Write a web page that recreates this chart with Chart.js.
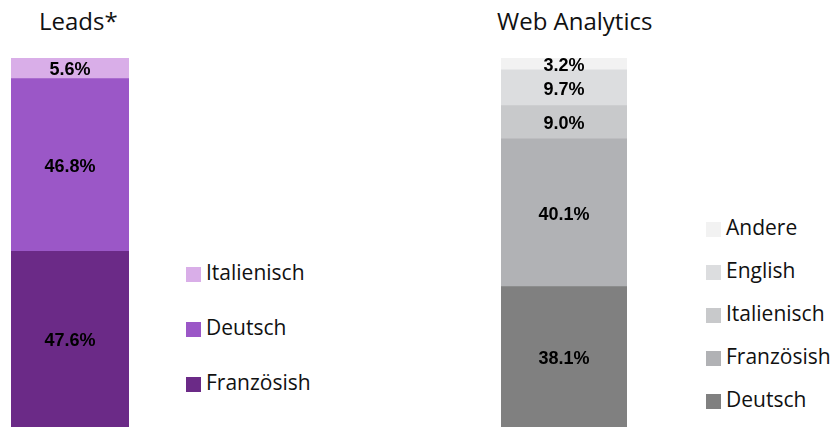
<!DOCTYPE html>
<html>
<head>
<meta charset="utf-8">
<script src="https://cdn.jsdelivr.net/npm/chart.js@4/dist/chart.umd.min.js"></script>
<style>
    html, body { margin: 0; padding: 0; background: #fff; }
    body { width: 838px; height: 427px; position: relative; overflow: hidden; font-family: "Open Sans", sans-serif; color: #111; }
    canvas { position: absolute; top: 0; }
    .title { position: absolute; font-size: 24px; line-height: 24px; white-space: nowrap; }
    .legend-box { position: absolute; width: 15px; height: 15px; }
    .legend-text { position: absolute; font-size: 21px; line-height: 21px; white-space: nowrap; }
</style>
</head>
<body>
<div class="title" style="left:39px; top:9px;">Leads*</div>
<div class="title" style="left:497px; top:9px;">Web Analytics</div>
<canvas id="leadsChart" width="140" height="427" style="left:0px;"></canvas>
<canvas id="webChart" width="148" height="427" style="left:490px;"></canvas>
<div id="leadsLegend"></div>
<div id="webLegend"></div>

<script>
// Stack order is bottom-up
const leadsLabels = ['Französish', 'Deutsch', 'Italienisch'];
const leadsValues = [47.6, 46.8, 5.6];
const leadsColors = ['#6B2A87', '#9B57C7', '#D9AEE8'];

const webLabels = ['Deutsch', 'Französish', 'Italienisch', 'English', 'Andere'];
const webValues = [38.1, 40.1, 9.0, 9.7, 3.2];
const webColors = ['#808080', '#B1B2B5', '#C8C9CB', '#DCDDDF', '#F2F2F2'];

// Draw the percentage inside each segment
const segmentLabels = {
    id: 'segmentLabels',
    afterDatasetsDraw(chart) {
        const ctx = chart.ctx;
        ctx.save();
        ctx.font = 'bold 18px "Liberation Sans", Arial, sans-serif';
        ctx.fillStyle = '#000';
        ctx.textAlign = 'center';
        ctx.textBaseline = 'middle';
        chart.data.datasets.forEach((ds, i) => {
            const bar = chart.getDatasetMeta(i).data[0];
            const y = (bar.y + bar.base) / 2;
            ctx.fillText(ds.data[0].toFixed(1) + '%', bar.x, y + 2);
        });
        ctx.restore();
    }
};

function renderStack(canvasId, labels, values, colors) {
    const ctx = document.getElementById(canvasId).getContext('2d');
    const total = values.reduce((s, v) => s + v, 0);
    return new Chart(ctx, {
        type: 'bar',
        data: {
            labels: [''],
            datasets: labels.map((label, i) => ({
                label: label,
                data: [values[i]],
                backgroundColor: colors[i],
                borderWidth: 0,
                barPercentage: 1,
                categoryPercentage: 1
            }))
        },
        options: {
            responsive: false,
            animation: false,
            layout: { padding: { left: 11, right: 11, top: 58, bottom: 0 } },
            plugins: {
                legend: { display: false },
                tooltip: { enabled: false }
            },
            scales: {
                x: { stacked: true, display: false },
                y: { stacked: true, display: false, min: 0, max: total }
            }
        },
        plugins: [segmentLabels]
    });
}

function renderLegend(containerId, labels, colors, left, top, gap) {
    const container = document.getElementById(containerId);
    let html = '';
    // Legend lists the top segment first
    for (let i = labels.length - 1, row = 0; i >= 0; i--, row++) {
        const y = top + row * gap;
        html += `<div class="legend-box" style="left:${left}px; top:${y}px; background:${colors[i]};"></div>`;
        html += `<div class="legend-text" style="left:${left + 20}px; top:${y - 5}px;">${labels[i]}</div>`;
    }
    container.innerHTML = html;
}

renderStack('leadsChart', leadsLabels, leadsValues, leadsColors);
renderStack('webChart', webLabels, webValues, webColors);
renderLegend('leadsLegend', leadsLabels, leadsColors, 186, 267, 55);
renderLegend('webLegend', webLabels, webColors, 706, 222, 43);
</script>
</body>
</html>
